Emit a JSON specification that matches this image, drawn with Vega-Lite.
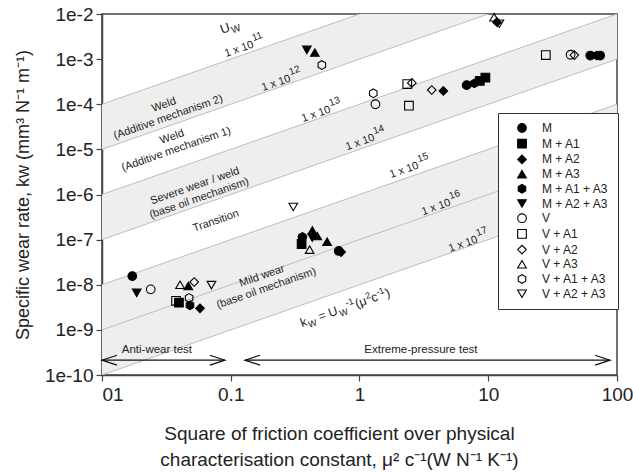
{
  "$schema": "https://vega.github.io/schema/vega-lite/v6.json",
  "width": 515,
  "height": 361,
  "autosize": "none",
  "padding": {"left": 102, "top": 14, "right": 16, "bottom": 97},
  "background": "white",
  "config": {
    "font": "Liberation Sans",
    "view": {"stroke": "#444", "strokeWidth": 1.5},
    "axis": {"labelFont": "Liberation Sans", "titleFont": "Liberation Sans", "labelColor": "#222", "titleColor": "#222", "tickColor": "#444", "domainColor": "#444", "domainWidth": 1.5, "tickWidth": 1.2, "tickSize": 6, "grid": false, "labelFontSize": 19, "titleFontSize": 18, "titleFontWeight": "normal"},
    "text": {"font": "Liberation Sans", "color": "#222"}
  },
  "datasets": {
    "bands": [
      {"band": 1, "x": 0.01, "y": 1e-4, "y2": 1e-5}, {"band": 1, "x": 100, "y": 1, "y2": 0.1},
      {"band": 3, "x": 0.01, "y": 1e-6, "y2": 1e-7}, {"band": 3, "x": 100, "y": 1e-2, "y2": 1e-3},
      {"band": 5, "x": 0.01, "y": 1e-8, "y2": 1e-9}, {"band": 5, "x": 100, "y": 1e-4, "y2": 1e-5},
      {"band": 6, "x": 0.01, "y": 1e-9, "y2": 1e-10}, {"band": 6, "x": 100, "y": 1e-5, "y2": 1e-6}
    ],
    "lines": [
      {"x": 0.01, "y": 1e-4, "x2": 100, "y2": 1},
      {"x": 0.01, "y": 1e-5, "x2": 100, "y2": 1e-1},
      {"x": 0.01, "y": 1e-6, "x2": 100, "y2": 1e-2},
      {"x": 0.01, "y": 1e-7, "x2": 100, "y2": 1e-3},
      {"x": 0.01, "y": 1e-8, "x2": 100, "y2": 1e-4},
      {"x": 0.01, "y": 1e-9, "x2": 100, "y2": 1e-5},
      {"x": 0.01, "y": 1e-10, "x2": 100, "y2": 1e-6}
    ],
    "arrows": [
      {"x": 0.01, "x2": 0.09, "y": 2.13e-10},
      {"x": 0.129, "x2": 88.3, "y": 2.13e-10}
    ],
    "heads": [
      {"x": 0.01, "y": 2.13e-10, "dir": "left"},
      {"x": 0.09, "y": 2.13e-10, "dir": "right"},
      {"x": 0.129, "y": 2.13e-10, "dir": "left"},
      {"x": 88.3, "y": 2.13e-10, "dir": "right"}
    ],
    "arrowText": [
      {"x": 0.0267, "y": 3.0e-10, "label": "Anti-wear test"},
      {"x": 3.0, "y": 3.0e-10, "label": "Extreme-pressure test"}
    ],
    "uwLabels": [
      {"x": 0.0918, "y": 1.11e-3, "base": "1 x 10", "exp": "11"},
      {"x": 0.178, "y": 1.96e-4, "base": "1 x 10", "exp": "12"},
      {"x": 0.364, "y": 4.03e-5, "base": "1 x 10", "exp": "13"},
      {"x": 0.80, "y": 9.6e-6, "base": "1 x 10", "exp": "14"},
      {"x": 1.76, "y": 2.31e-6, "base": "1 x 10", "exp": "15"},
      {"x": 3.11, "y": 3.49e-7, "base": "1 x 10", "exp": "16"},
      {"x": 5.05, "y": 5.3e-8, "base": "1 x 10", "exp": "17"}
    ],
    "regions": [
      {"x": 0.0303, "y": 9.6e-5, "label": "Weld\n(Additive mechanism 2)"},
      {"x": 0.035, "y": 1.87e-5, "label": "Weld\n(Additive mechanism 1)"},
      {"x": 0.0527, "y": 1.53e-6, "label": "Severe wear / weld\n(base oil mechanism)"},
      {"x": 0.0767, "y": 2.57e-7, "label": "Transition"},
      {"x": 0.175, "y": 1.55e-8, "label": "Mild wear\n(base oil mechanism)"}
    ],
    "bigText": [
      {"x": 0.0855, "y": 3.6e-3, "label": "U"}
    ],
    "bigSub": [
      {"x": 0.1012, "y": 4.26e-3, "label": "W"}
    ],
    "mainText": [
      {"x": 0.3576, "y": 1.148e-9, "label": "k"},
      {"x": 0.4928, "y": 1.582e-9, "label": "= U"},
      {"x": 0.9516, "y": 3.055e-9, "label": "(μ"},
      {"x": 1.268, "y": 4.071e-9, "label": "c"},
      {"x": 1.633, "y": 5.243e-9, "label": ")"}
    ],
    "subText": [
      {"x": 0.4023, "y": 1.291e-9, "label": "W"},
      {"x": 0.7027, "y": 2.256e-9, "label": "W"}
    ],
    "supText": [
      {"x": 0.8178, "y": 2.625e-9, "label": "-1"},
      {"x": 1.166, "y": 3.744e-9, "label": "2"},
      {"x": 1.415, "y": 4.544e-9, "label": "-1"}
    ],
    "points": [
      {"series": "M", "x": 0.0172, "y": 1.55e-8},
      {"series": "M + A2 + A3", "x": 0.0186, "y": 6.6e-9},
      {"series": "V", "x": 0.0239, "y": 7.9e-9},
      {"series": "V + A3", "x": 0.0404, "y": 1.0e-8},
      {"series": "M + A3", "x": 0.0468, "y": 9.4e-9},
      {"series": "V + A2", "x": 0.052, "y": 1.15e-8},
      {"series": "V + A2 + A3", "x": 0.0708, "y": 9.8e-9},
      {"series": "M + A1", "x": 0.0396, "y": 4.0e-9},
      {"series": "V + A1", "x": 0.0376, "y": 4.4e-9},
      {"series": "V + A1 + A3", "x": 0.0475, "y": 5.1e-9},
      {"series": "M + A1 + A3", "x": 0.0482, "y": 3.5e-9},
      {"series": "M + A2", "x": 0.0577, "y": 3.0e-9},
      {"series": "M + A1 + A3", "x": 0.36, "y": 1.15e-7},
      {"series": "M + A1", "x": 0.355, "y": 8.0e-8},
      {"series": "V + A2 + A3", "x": 0.36, "y": 9.5e-8},
      {"series": "M + A3", "x": 0.43, "y": 1.6e-7},
      {"series": "M + A2 + A3", "x": 0.43, "y": 1.1e-7},
      {"series": "V + A3", "x": 0.41, "y": 6.0e-8},
      {"series": "M + A3", "x": 0.47, "y": 1.2e-7},
      {"series": "M + A3", "x": 0.56, "y": 9.0e-8},
      {"series": "M", "x": 0.69, "y": 5.6e-8},
      {"series": "M + A2", "x": 0.72, "y": 5.3e-8},
      {"series": "V + A2 + A3", "x": 0.306, "y": 5.3e-7},
      {"series": "M + A2 + A3", "x": 0.39, "y": 1.6e-3},
      {"series": "M + A3", "x": 0.45, "y": 1.4e-3},
      {"series": "V + A1 + A3", "x": 0.51, "y": 7.4e-4},
      {"series": "V + A1 + A3", "x": 1.28, "y": 1.75e-4},
      {"series": "V", "x": 1.33, "y": 1.0e-4},
      {"series": "V + A1", "x": 2.35, "y": 2.8e-4},
      {"series": "V + A2", "x": 2.55, "y": 2.97e-4},
      {"series": "V + A1", "x": 2.42, "y": 9.3e-5},
      {"series": "V + A2", "x": 3.64, "y": 2.07e-4},
      {"series": "M + A2", "x": 4.48, "y": 1.97e-4},
      {"series": "M", "x": 6.8, "y": 2.65e-4},
      {"series": "M + A1 + A3", "x": 7.8, "y": 2.9e-4},
      {"series": "M + A1", "x": 8.6, "y": 3.3e-4},
      {"series": "M + A1", "x": 9.5, "y": 3.9e-4},
      {"series": "V + A3", "x": 11.1, "y": 8.5e-3},
      {"series": "M + A2", "x": 11.7, "y": 6.6e-3},
      {"series": "V + A2 + A3", "x": 12.2, "y": 6.1e-3},
      {"series": "V + A1", "x": 28, "y": 1.23e-3},
      {"series": "V", "x": 43.6, "y": 1.25e-3},
      {"series": "V + A2", "x": 46.6, "y": 1.23e-3},
      {"series": "M", "x": 62, "y": 1.2e-3},
      {"series": "M + A1 + A3", "x": 70, "y": 1.2e-3},
      {"series": "M", "x": 74, "y": 1.2e-3}
    ]
  },
  "encoding": {
    "x": {
      "field": "x", "type": "quantitative",
      "scale": {"type": "log", "domain": [0.01, 100], "nice": false},
      "axis": {
        "values": [0.01, 0.1, 1, 10, 100],
        "labelExpr": "datum.value < 0.05 ? '01' : datum.value < 0.5 ? '0.1' : datum.value < 5 ? '1' : datum.value < 50 ? '10' : '100'",
        "labelAlign": {"condition": {"test": "datum.value < 0.05", "value": "left"}, "value": "center"},
        "labelPadding": 4,
        "title": ["Square of friction coefficient over physical", "characterisation constant, μ² c⁻¹(W N⁻¹ K⁻¹)"],
        "titleFontSize": 19,
        "titlePadding": 20,
        "titleLineHeight": 26,
        "titleX": 237
      }
    },
    "y": {
      "field": "y", "type": "quantitative",
      "scale": {"type": "log", "domain": [1e-10, 1e-2], "nice": false},
      "axis": {
        "values": [1e-10, 1e-9, 1e-8, 1e-7, 1e-6, 1e-5, 1e-4, 1e-3, 1e-2],
        "labelExpr": "'1e' + round(log(datum.value) / LN10)",
        "labelPadding": 3,
        "title": "Specific wear rate, kw (mm³ N⁻¹ m⁻¹)",
        "titlePadding": 12
      }
    }
  },
  "layer": [
    {
      "data": {"name": "bands"},
      "mark": {"type": "area", "fill": "#eeeeee", "clip": true},
      "encoding": {"y2": {"field": "y2"}, "detail": {"field": "band", "type": "nominal"}}
    },
    {
      "data": {"name": "lines"},
      "mark": {"type": "rule", "color": "#bdbdbd", "strokeWidth": 1, "clip": true},
      "encoding": {"x2": {"field": "x2"}, "y2": {"field": "y2"}}
    },
    {
      "data": {"name": "arrows"},
      "mark": {"type": "rule", "color": "#111", "strokeWidth": 1.2},
      "encoding": {"x2": {"field": "x2"}}
    },
    {
      "data": {"name": "heads"},
      "transform": [{"filter": "datum.dir == 'right'"}],
      "mark": {"type": "point", "shape": "M-1,-0.33L0,0L-1,0.33", "size": 900, "filled": false, "stroke": "#111", "strokeWidth": 1.2, "opacity": 1}
    },
    {
      "data": {"name": "heads"},
      "transform": [{"filter": "datum.dir == 'left'"}],
      "mark": {"type": "point", "shape": "M1,-0.33L0,0L1,0.33", "size": 900, "filled": false, "stroke": "#111", "strokeWidth": 1.2, "opacity": 1}
    },
    {
      "data": {"name": "arrowText"},
      "mark": {"type": "text", "fontSize": 11.5, "align": "center", "baseline": "alphabetic"},
      "encoding": {"text": {"field": "label"}}
    },
    {
      "data": {"name": "uwLabels"},
      "mark": {"type": "text", "fontSize": 11, "align": "left", "baseline": "alphabetic", "angle": 340.7},
      "encoding": {"text": {"field": "base"}}
    },
    {
      "data": {"name": "uwLabels"},
      "mark": {"type": "text", "fontSize": 10, "align": "left", "baseline": "alphabetic", "angle": 340.7, "dx": 31, "dy": -6},
      "encoding": {"text": {"field": "exp"}}
    },
    {
      "data": {"name": "regions"},
      "mark": {"type": "text", "fontSize": 11, "align": "center", "baseline": "middle", "angle": 340.7, "lineBreak": "\n", "lineHeight": 13},
      "encoding": {"text": {"field": "label"}}
    },
    {
      "data": {"name": "bigText"},
      "mark": {"type": "text", "fontSize": 13, "align": "left", "baseline": "alphabetic", "angle": 340.7},
      "encoding": {"text": {"field": "label"}}
    },
    {
      "data": {"name": "bigSub"},
      "mark": {"type": "text", "fontSize": 10, "align": "left", "baseline": "alphabetic", "angle": 340.7, "dy": 3},
      "encoding": {"text": {"field": "label"}}
    },
    {
      "data": {"name": "mainText"},
      "mark": {"type": "text", "fontSize": 12.5, "align": "left", "baseline": "alphabetic", "angle": 340.7},
      "encoding": {"text": {"field": "label"}}
    },
    {
      "data": {"name": "subText"},
      "mark": {"type": "text", "fontSize": 9, "align": "left", "baseline": "alphabetic", "angle": 340.7, "dy": 3},
      "encoding": {"text": {"field": "label"}}
    },
    {
      "data": {"name": "supText"},
      "mark": {"type": "text", "fontSize": 9, "align": "left", "baseline": "alphabetic", "angle": 340.7, "dy": -5},
      "encoding": {"text": {"field": "label"}}
    },
    {
      "data": {"name": "points"},
      "mark": {"type": "point", "strokeWidth": 1.1, "size": 75, "opacity": 1},
      "encoding": {
        "shape": {
          "field": "series", "type": "nominal",
          "scale": {
            "domain": ["M", "M + A1", "M + A2", "M + A3", "M + A1 + A3", "M + A2 + A3", "V", "V + A1", "V + A2", "V + A3", "V + A1 + A3", "V + A2 + A3"],
            "range": ["circle", "square", "diamond", "triangle-up", "M0,-1L0.866,-0.5L0.866,0.5L0,1L-0.866,0.5L-0.866,-0.5Z", "triangle-down", "circle", "square", "diamond", "triangle-up", "M0,-1L0.866,-0.5L0.866,0.5L0,1L-0.866,0.5L-0.866,-0.5Z", "triangle-down"]
          },
          "legend": {"title": null, "orient": "none", "legendX": 396, "legendY": 99, "strokeColor": "#333", "padding": 9, "labelFontSize": 12, "labelColor": "#222", "symbolSize": 75, "rowPadding": 1.7, "symbolStrokeWidth": 1.1, "symbolOffset": 9, "labelOffset": 14, "fillColor": "white"}
        },
        "fill": {
          "field": "series", "type": "nominal",
          "scale": {
            "domain": ["M", "M + A1", "M + A2", "M + A3", "M + A1 + A3", "M + A2 + A3", "V", "V + A1", "V + A2", "V + A3", "V + A1 + A3", "V + A2 + A3"],
            "range": ["black", "black", "black", "black", "black", "black", "transparent", "transparent", "transparent", "transparent", "transparent", "transparent"]
          },
          "legend": {"title": null, "orient": "none", "legendX": 396, "legendY": 99, "strokeColor": "#333", "padding": 9, "labelFontSize": 12, "labelColor": "#222", "symbolSize": 75, "rowPadding": 1.7, "symbolStrokeWidth": 1.1, "symbolOffset": 9, "labelOffset": 14, "fillColor": "white"}
        },
        "stroke": {
          "field": "series", "type": "nominal",
          "scale": {
            "domain": ["M", "M + A1", "M + A2", "M + A3", "M + A1 + A3", "M + A2 + A3", "V", "V + A1", "V + A2", "V + A3", "V + A1 + A3", "V + A2 + A3"],
            "range": ["black", "black", "black", "black", "black", "black", "black", "black", "black", "black", "black", "black"]
          },
          "legend": {"title": null, "orient": "none", "legendX": 396, "legendY": 99, "strokeColor": "#333", "padding": 9, "labelFontSize": 12, "labelColor": "#222", "symbolSize": 75, "rowPadding": 1.7, "symbolStrokeWidth": 1.1, "symbolOffset": 9, "labelOffset": 14, "fillColor": "white"}
        }
      }
    }
  ]
}
